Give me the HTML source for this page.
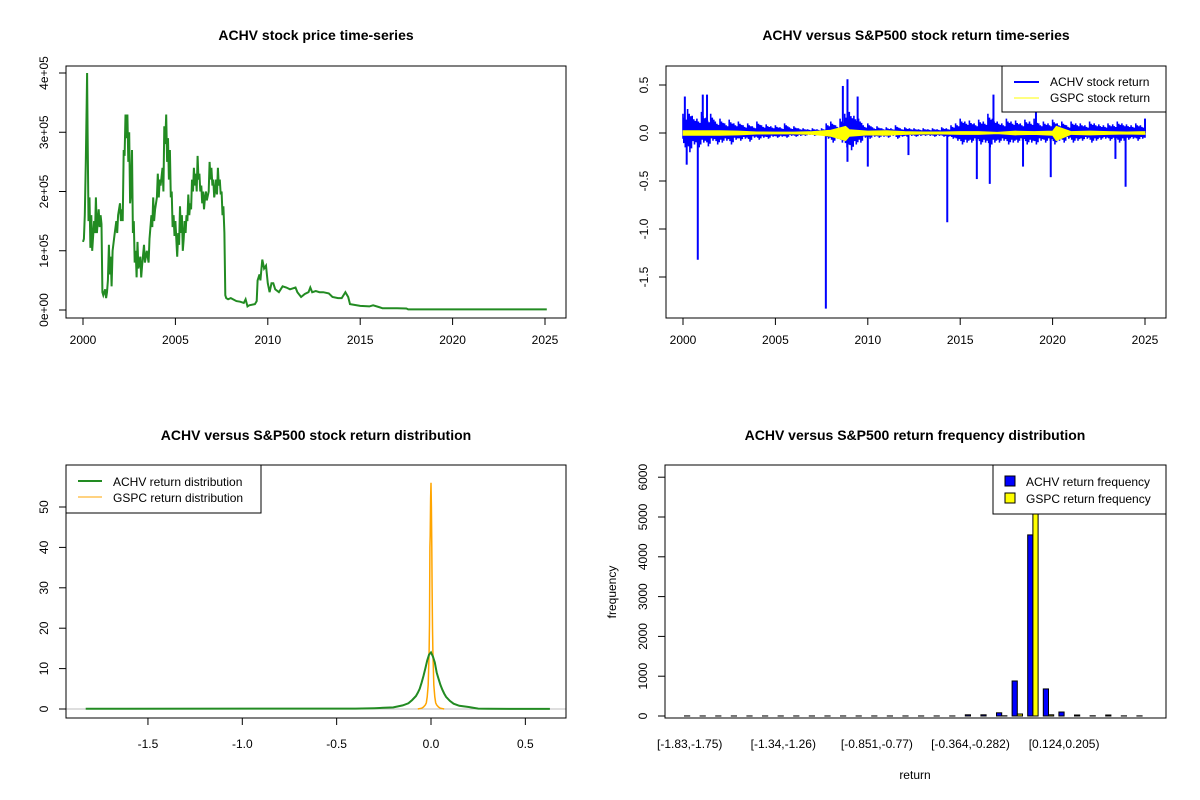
<!DOCTYPE html>
<html><head><meta charset="utf-8"><style>
body{margin:0;background:#fff;}
svg{display:block;font-family:"Liberation Sans",Arial,sans-serif;}
</style></head><body>
<svg id="c" width="1200" height="800" viewBox="0 0 1200 800"></svg>
<script>
// ---------- Panel 1: price ----------
const priceYears=[2000.0,2000.05,2000.1,2000.15,2000.2,2000.22,2000.25,2000.3,2000.35,2000.4,2000.45,2000.5,2000.6,2000.65,2000.7,2000.75,2000.85,2000.9,2000.95,2001.0,2001.05,2001.1,2001.2,2001.25,2001.3,2001.35,2001.4,2001.45,2001.5,2001.55,2001.6,2001.7,2001.8,2001.85,2001.9,2002.0,2002.05,2002.1,2002.15,2002.2,2002.25,2002.3,2002.35,2002.4,2002.45,2002.5,2002.55,2002.6,2002.65,2002.7,2002.75,2002.8,2002.85,2002.9,2002.95,2003.0,2003.1,2003.15,2003.2,2003.3,2003.35,2003.45,2003.55,2003.6,2003.7,2003.75,2003.8,2003.85,2003.9,2004.0,2004.05,2004.1,2004.15,2004.2,2004.3,2004.35,2004.4,2004.45,2004.5,2004.55,2004.6,2004.65,2004.7,2004.75,2004.8,2004.85,2004.9,2004.95,2005.0,2005.05,2005.1,2005.15,2005.2,2005.25,2005.3,2005.35,2005.4,2005.45,2005.5,2005.55,2005.6,2005.65,2005.7,2005.75,2005.8,2005.85,2005.9,2005.95,2006.0,2006.05,2006.1,2006.15,2006.2,2006.25,2006.3,2006.35,2006.4,2006.45,2006.5,2006.55,2006.6,2006.65,2006.7,2006.8,2006.85,2006.9,2006.95,2007.0,2007.05,2007.1,2007.15,2007.2,2007.25,2007.3,2007.35,2007.4,2007.45,2007.5,2007.55,2007.6,2007.65,2007.7,2007.75,2007.85,2008.0,2008.3,2008.5,2008.7,2008.8,2008.9,2009.0,2009.3,2009.4,2009.45,2009.55,2009.6,2009.7,2009.8,2009.9,2010.0,2010.1,2010.2,2010.3,2010.4,2010.6,2010.8,2011.0,2011.2,2011.5,2011.6,2011.8,2012.0,2012.2,2012.3,2012.4,2012.6,2012.8,2013.0,2013.3,2013.5,2013.8,2014.0,2014.2,2014.35,2014.45,2015.0,2015.5,2015.7,2016.0,2016.2,2017.0,2017.5,2017.6,2025.1];
const priceVals=[1.15,1.2,1.6,2.5,3.5,4.0,3.0,1.5,1.9,1.05,1.6,1.0,1.5,1.3,1.9,1.3,1.7,1.4,1.6,1.45,0.3,0.25,0.35,0.2,0.3,0.5,1.1,0.6,0.9,0.4,1.0,1.25,1.5,1.3,1.6,1.8,1.5,1.7,1.5,2.7,2.6,3.3,2.9,3.3,2.5,3.0,1.8,2.0,2.7,1.3,1.5,0.8,1.0,0.55,1.15,0.7,0.9,0.55,0.75,1.1,0.8,1.0,0.8,1.2,1.6,1.4,1.9,1.5,1.7,1.9,2.3,1.9,2.2,2.1,2.4,2.0,3.1,2.8,3.3,2.5,2.9,2.2,2.7,1.9,2.0,1.4,1.6,1.25,1.5,1.2,0.9,1.3,1.1,1.75,1.3,1.6,1.0,1.2,1.5,1.3,1.6,1.5,1.95,1.6,1.8,1.7,2.2,2.0,2.4,2.1,2.3,2.0,2.6,2.2,2.3,2.0,2.1,1.8,2.0,1.7,1.9,2.0,1.85,2.0,2.5,2.2,2.4,2.1,2.2,1.9,2.0,2.2,1.95,2.4,2.1,2.2,1.95,2.0,1.6,1.75,1.3,0.25,0.2,0.18,0.2,0.15,0.14,0.12,0.18,0.06,0.08,0.1,0.15,0.5,0.6,0.5,0.85,0.7,0.75,0.45,0.3,0.45,0.45,0.35,0.3,0.4,0.38,0.35,0.38,0.3,0.22,0.27,0.3,0.38,0.3,0.32,0.3,0.3,0.28,0.22,0.2,0.2,0.3,0.22,0.1,0.07,0.06,0.08,0.05,0.03,0.03,0.025,0.01,0.01];
const priceYTicks=[0,1,2,3,4];
const priceYLabels=["0e+00","1e+05","2e+05","3e+05","4e+05"];
const yearTicks=[2000,2005,2010,2015,2020,2025];

// ---------- Panel 2: returns ----------
const bandYears=[2000.0,2000.25,2000.5,2000.75,2001.0,2001.25,2001.5,2001.75,2002.0,2002.25,2002.5,2002.75,2003.0,2003.25,2003.5,2003.75,2004.0,2004.25,2004.5,2004.75,2005.0,2005.25,2005.5,2005.75,2006.0,2006.25,2006.5,2006.75,2007.0,2007.25,2007.5,2007.75,2008.0,2008.25,2008.5,2008.75,2009.0,2009.25,2009.5,2009.75,2010.0,2010.25,2010.5,2010.75,2011.0,2011.25,2011.5,2011.75,2012.0,2012.25,2012.5,2012.75,2013.0,2013.25,2013.5,2013.75,2014.0,2014.25,2014.5,2014.75,2015.0,2015.25,2015.5,2015.75,2016.0,2016.25,2016.5,2016.75,2017.0,2017.25,2017.5,2017.75,2018.0,2018.25,2018.5,2018.75,2019.0,2019.25,2019.5,2019.75,2020.0,2020.25,2020.5,2020.75,2021.0,2021.25,2021.5,2021.75,2022.0,2022.25,2022.5,2022.75,2023.0,2023.25,2023.5,2023.75,2024.0,2024.25,2024.5,2024.75,2025.0];
const bandHi=[0.2,0.25,0.18,0.15,0.22,0.16,0.2,0.12,0.15,0.1,0.14,0.1,0.12,0.08,0.1,0.07,0.12,0.08,0.09,0.07,0.08,0.06,0.1,0.06,0.07,0.05,0.05,0.04,0.05,0.04,0.05,0.1,0.12,0.08,0.15,0.2,0.22,0.18,0.15,0.08,0.1,0.06,0.07,0.05,0.06,0.05,0.08,0.05,0.06,0.05,0.05,0.04,0.05,0.04,0.05,0.04,0.06,0.05,0.08,0.1,0.15,0.12,0.13,0.1,0.14,0.12,0.2,0.15,0.12,0.1,0.15,0.12,0.13,0.1,0.14,0.12,0.15,0.1,0.12,0.1,0.14,0.1,0.12,0.08,0.12,0.1,0.1,0.08,0.12,0.1,0.09,0.08,0.1,0.09,0.12,0.1,0.09,0.08,0.1,0.08,0.12];
const bandLo=[-0.15,-0.2,-0.12,-0.15,-0.1,-0.14,-0.08,-0.12,-0.1,-0.08,-0.12,-0.07,-0.08,-0.06,-0.09,-0.05,-0.07,-0.05,-0.06,-0.04,-0.05,-0.04,-0.05,-0.03,-0.04,-0.03,-0.03,-0.02,-0.03,-0.02,-0.03,-0.06,-0.1,-0.06,-0.1,-0.15,-0.18,-0.12,-0.1,-0.05,-0.06,-0.04,-0.05,-0.04,-0.05,-0.03,-0.06,-0.04,-0.04,-0.03,-0.04,-0.03,-0.03,-0.03,-0.04,-0.03,-0.04,-0.04,-0.06,-0.08,-0.12,-0.1,-0.1,-0.08,-0.12,-0.1,-0.15,-0.1,-0.1,-0.08,-0.12,-0.1,-0.1,-0.08,-0.12,-0.1,-0.12,-0.08,-0.1,-0.08,-0.12,-0.08,-0.1,-0.06,-0.1,-0.08,-0.08,-0.06,-0.1,-0.08,-0.07,-0.06,-0.08,-0.07,-0.1,-0.08,-0.07,-0.06,-0.08,-0.06,-0.05];
const spikeYears=[2000.1,2001.07,2001.3,2008.65,2008.9,2009.45,2016.8,2019.1,2000.8,2000.2,2007.73,2008.9,2010.0,2012.2,2014.3,2015.9,2016.6,2018.4,2019.9,2023.4,2023.95,2025.0];
const spikeVals=[0.38,0.40,0.40,0.49,0.56,0.38,0.40,0.33,-1.32,-0.33,-1.83,-0.30,-0.35,-0.23,-0.93,-0.48,-0.53,-0.35,-0.46,-0.27,-0.56,0.15];
const gspcYears=[2000,2001,2002,2003,2004,2005,2006,2007,2008,2008.8,2009,2010,2011,2012,2013,2014,2015,2016,2017,2018,2019,2020,2020.2,2021,2022,2023,2024,2025];
const gspcHi=[0.025,0.025,0.025,0.02,0.012,0.01,0.01,0.015,0.03,0.07,0.035,0.02,0.025,0.015,0.012,0.012,0.015,0.015,0.008,0.02,0.015,0.02,0.07,0.015,0.02,0.015,0.012,0.015];
const gspcLo=[-0.025,-0.025,-0.025,-0.02,-0.012,-0.01,-0.01,-0.015,-0.035,-0.08,-0.035,-0.02,-0.025,-0.015,-0.012,-0.012,-0.015,-0.015,-0.008,-0.02,-0.015,-0.025,-0.08,-0.015,-0.02,-0.015,-0.012,-0.015];
const retYTicks=[0.5,0,-0.5,-1,-1.5];
const retYLabels=["0.5","0.0","-0.5","-1.0","-1.5"];

// ---------- Panel 3: densities ----------
const densX=[-1.83,-0.4,-0.3,-0.25,-0.2,-0.15,-0.12,-0.1,-0.08,-0.07,-0.06,-0.05,-0.04,-0.03,-0.02,-0.01,0,0.01,0.02,0.03,0.04,0.05,0.06,0.07,0.08,0.1,0.12,0.15,0.2,0.25,0.3,0.63];
const densAchv=[0.05,0.1,0.2,0.3,0.4,0.9,1.4,2.2,3.2,4.0,5.0,6.5,8.2,10,12,13.5,14,13,11.5,9,7.5,6,4.8,3.8,3.0,2.0,1.3,0.8,0.5,0.1,0.05,0.02];
const gspcX=[-0.07,-0.05,-0.04,-0.03,-0.025,-0.02,-0.015,-0.01,-0.008,-0.006,-0.004,-0.002,0,0.002,0.004,0.006,0.008,0.01,0.015,0.02,0.025,0.03,0.04,0.05,0.07];
const densGspc=[0,0.2,0.5,1.0,1.5,3,6,14,21,40,43,52,56,50,40,30,20,14,6,3,1.5,1.0,0.5,0.2,0];
const densXTicks=[-1.5,-1,-0.5,0,0.5];
const densXLabels=["-1.5","-1.0","-0.5","0.0","0.5"];
const densYTicks=[0,10,20,30,40,50];

// ---------- Panel 4: histogram ----------
const achvFreq=[2,1,1,1,1,1,1,1,1,1,1,1,1,1,1,1,1,1,30,30,80,880,4550,680,100,25,5,25,3,3];
const gspcFreq=[0,0,0,0,0,0,0,0,0,0,0,0,0,0,0,0,0,0,0,0,5,50,6240,30,0,0,0,0,0,0];
const binLabels={0:"[-1.83,-1.75)",6:"[-1.34,-1.26)",12:"[-0.851,-0.77)",18:"[-0.364,-0.282)",24:"[0.124,0.205)"};
const freqTicks=[0,1000,2000,3000,4000,5000,6000];

const svg=document.getElementById('c');
const NS='http://www.w3.org/2000/svg';
function el(tag,attrs,parent,text){const e=document.createElementNS(NS,tag);for(const k in attrs)e.setAttribute(k,attrs[k]);if(text!==undefined)e.textContent=text;(parent||svg).appendChild(e);return e;}
function group(name){const g=el('g',{},svg);return g;}

// ===== Panel 1 =====
(function(){
  const g=group('price-panel');
  const X=y=>83+(y-2000)*(545-83)/25, Y=v=>310-v*(310-73)/4;
  let t=el('text',{x:316,y:40,'text-anchor':'middle','font-size':14,'font-weight':'bold'},g,'ACHV stock price time-series');
  
  let pts=priceYears.map((y,i)=>X(y).toFixed(1)+','+Y(priceVals[i]).toFixed(1)).join(' ');
  let l=el('polyline',{points:pts,fill:'none',stroke:'#228B22','stroke-width':2},g);
  
  let b=el('rect',{x:66,y:66,width:500,height:252,fill:'none',stroke:'#000'},g);
  
  el('line',{x1:X(2000),x2:X(2025),y1:318,y2:318,stroke:'#000'},g);
  yearTicks.forEach(y=>{el('line',{x1:X(y),x2:X(y),y1:318,y2:325,stroke:'#000'},g);
    const lb=el('text',{x:X(y),y:344,'text-anchor':'middle','font-size':12},g,String(y));
    });
  priceYTicks.forEach((v,i)=>{el('line',{x1:59,x2:66,y1:Y(v),y2:Y(v),stroke:'#000'},g);
    const lb=el('text',{x:48,y:Y(v),'text-anchor':'middle','font-size':12,transform:`rotate(-90 48 ${Y(v)})`},g,priceYLabels[i]);
    });
})();

// ===== Panel 2 =====
(function(){
  const g=group('return-panel');
  const X=y=>683+(y-2000)*(1145-683)/25, Y=v=>133-v*96;
  let t=el('text',{x:916,y:40,'text-anchor':'middle','font-size':14,'font-weight':'bold'},g,'ACHV versus S&P500 stock return time-series');
  
  const fac=[1,0.55,0.8,0.4,0.7,0.5];
  let d='';
  bandYears.forEach((y,i)=>{
    if(i<bandYears.length-1){const dx=(X(bandYears[i+1])-X(y))/6;
      for(let k=0;k<6;k++){const xx=(X(y)+k*dx).toFixed(1);const f=fac[k], f2=fac[(k+3)%6];
        d+=`M${xx},${Y(bandHi[i]*f).toFixed(1)}L${xx},${Y(bandLo[i]*f2).toFixed(1)}`;}}
    else d+=`M${X(y).toFixed(1)},${Y(bandHi[i]).toFixed(1)}L${X(y).toFixed(1)},${Y(bandLo[i]).toFixed(1)}`;});
  let b1=el('path',{d:d,stroke:'#0000FF','stroke-width':1.6,fill:'none'},g);
  
  let hb=el('polygon',{points:bandYears.map((y,i)=>X(y)+','+Y(bandHi[i]*0.35)).concat(bandYears.slice().reverse().map((y,j)=>{const i=bandYears.length-1-j;return X(y)+','+Y(bandLo[i]*0.35);})).join(' '),fill:'#0000FF'},g);
  
  spikeYears.forEach((y,i)=>{const s=el('line',{x1:X(y),x2:X(y),y1:Y(0),y2:Y(spikeVals[i]),stroke:'#0000FF','stroke-width':2},g);
    });
  let gp=el('polygon',{points:gspcYears.map((y,i)=>X(y)+','+Y(gspcHi[i])).concat(gspcYears.slice().reverse().map((y,j)=>{const i=gspcYears.length-1-j;return X(y)+','+Y(gspcLo[i]);})).join(' '),fill:'#FFFF00',stroke:'#FFFF00','stroke-width':0.8},g);
  
  el('rect',{x:666,y:66,width:500,height:252,fill:'none',stroke:'#000'},g);
  el('line',{x1:X(2000),x2:X(2025),y1:318,y2:318,stroke:'#000'},g);
  yearTicks.forEach(y=>{el('line',{x1:X(y),x2:X(y),y1:318,y2:325,stroke:'#000'},g);
    const lb=el('text',{x:X(y),y:344,'text-anchor':'middle','font-size':12},g,String(y));
    });
  el('line',{x1:666,x2:666,y1:Y(0.5),y2:Y(-1.5),stroke:'#000'},g);
  retYTicks.forEach((v,i)=>{el('line',{x1:659,x2:666,y1:Y(v),y2:Y(v),stroke:'#000'},g);
    const lb=el('text',{x:648,y:Y(v),'text-anchor':'middle','font-size':12,transform:`rotate(-90 648 ${Y(v)})`},g,retYLabels[i]);
    });
  const lg=el('g',{},g);
  el('rect',{x:1002,y:66,width:164,height:46,fill:'#fff',stroke:'#000'},lg);
  el('line',{x1:1014,x2:1039,y1:82,y2:82,stroke:'#0000FF','stroke-width':2},lg);
  el('line',{x1:1014,x2:1039,y1:98,y2:98,stroke:'#FFFF00','stroke-width':1},lg);
  el('text',{x:1050,y:86,'font-size':12},lg,'ACHV stock return');
  el('text',{x:1050,y:102,'font-size':12},lg,'GSPC stock return');
})();

// ===== Panel 3 =====
(function(){
  const g=group('density-panel');
  const X=v=>431+v*188.7, Y=v=>709-v*4.04;
  let t=el('text',{x:316,y:440,'text-anchor':'middle','font-size':14,'font-weight':'bold'},g,'ACHV versus S&P500 stock return distribution');
  
  let z=el('line',{x1:66,x2:566,y1:Y(0),y2:Y(0),stroke:'#BEBEBE'},g);
  
  let go=el('polyline',{points:gspcX.map((x,i)=>X(x).toFixed(1)+','+Y(densGspc[i]).toFixed(1)).join(' '),fill:'none',stroke:'#FFA500','stroke-width':1.5},g);
  
  let gl=el('polyline',{points:densX.map((x,i)=>X(x).toFixed(1)+','+Y(densAchv[i]).toFixed(1)).join(' '),fill:'none',stroke:'#228B22','stroke-width':2},g);
  
  el('rect',{x:66,y:465,width:500,height:253,fill:'none',stroke:'#000'},g);
  el('line',{x1:X(-1.5),x2:X(0.5),y1:718,y2:718,stroke:'#000'},g);
  densXTicks.forEach((v,i)=>{el('line',{x1:X(v),x2:X(v),y1:718,y2:725,stroke:'#000'},g);
    const lb=el('text',{x:X(v),y:748,'text-anchor':'middle','font-size':12},g,densXLabels[i]);
    });
  densYTicks.forEach(v=>{el('line',{x1:59,x2:66,y1:Y(v),y2:Y(v),stroke:'#000'},g);
    const lb=el('text',{x:48,y:Y(v),'text-anchor':'middle','font-size':12,transform:`rotate(-90 48 ${Y(v)})`},g,String(v));
    });
  const lg=el('g',{},g);
  el('rect',{x:66,y:465,width:195,height:48,fill:'#fff',stroke:'#000'},lg);
  el('line',{x1:78,x2:102,y1:481,y2:481,stroke:'#228B22','stroke-width':2},lg);
  el('line',{x1:78,x2:102,y1:497,y2:497,stroke:'#FFA500','stroke-width':1},lg);
  el('text',{x:113,y:486,'font-size':12},lg,'ACHV return distribution');
  el('text',{x:113,y:502,'font-size':12},lg,'GSPC return distribution');
})();

// ===== Panel 4 =====
(function(){
  const g=group('histogram-panel');
  const unit=5.2, x0=684.5;
  const Y=v=>716-v*0.0398;
  let t=el('text',{x:915,y:440,'text-anchor':'middle','font-size':14,'font-weight':'bold'},g,'ACHV versus S&P500 return frequency distribution');
  
  achvFreq.forEach((v,i)=>{const s=x0+3*i*unit;
    const r=el('rect',{x:s,y:Y(v),width:unit,height:716-Y(v),fill:'#0000FF',stroke:'#000','stroke-width':1},g);
    
    const r2=el('rect',{x:s+unit,y:Y(gspcFreq[i]),width:unit,height:716-Y(gspcFreq[i]),fill:'#FFFF00',stroke:'#000','stroke-width':1},g);
    
    if(binLabels[i]!==undefined){const lb=el('text',{x:s+unit,y:748,'text-anchor':'middle','font-size':12},g,binLabels[i]);
      }});
  el('rect',{x:665,y:465,width:501,height:253,fill:'none',stroke:'#000'},g);
  el('line',{x1:665,x2:665,y1:Y(0),y2:Y(6000),stroke:'#000'},g);
  freqTicks.forEach(v=>{el('line',{x1:658,x2:665,y1:Y(v),y2:Y(v),stroke:'#000'},g);
    const lb=el('text',{x:647,y:Y(v),'text-anchor':'middle','font-size':12,transform:`rotate(-90 647 ${Y(v)})`},g,String(v));
    });
  let yl=el('text',{x:616,y:592,'text-anchor':'middle','font-size':12,transform:'rotate(-90 616 592)'},g,'frequency');
  
  let xl=el('text',{x:915,y:779,'text-anchor':'middle','font-size':12},g,'return');
  
  const lg=el('g',{},g);
  el('rect',{x:993,y:465,width:173,height:49,fill:'#fff',stroke:'#000'},lg);
  el('rect',{x:1005,y:476,width:10,height:10,fill:'#0000FF',stroke:'#000'},lg);
  el('rect',{x:1005,y:493,width:10,height:10,fill:'#FFFF00',stroke:'#000'},lg);
  el('text',{x:1026,y:486,'font-size':12},lg,'ACHV return frequency');
  el('text',{x:1026,y:503,'font-size':12},lg,'GSPC return frequency');
})();
</script>
</body></html>
